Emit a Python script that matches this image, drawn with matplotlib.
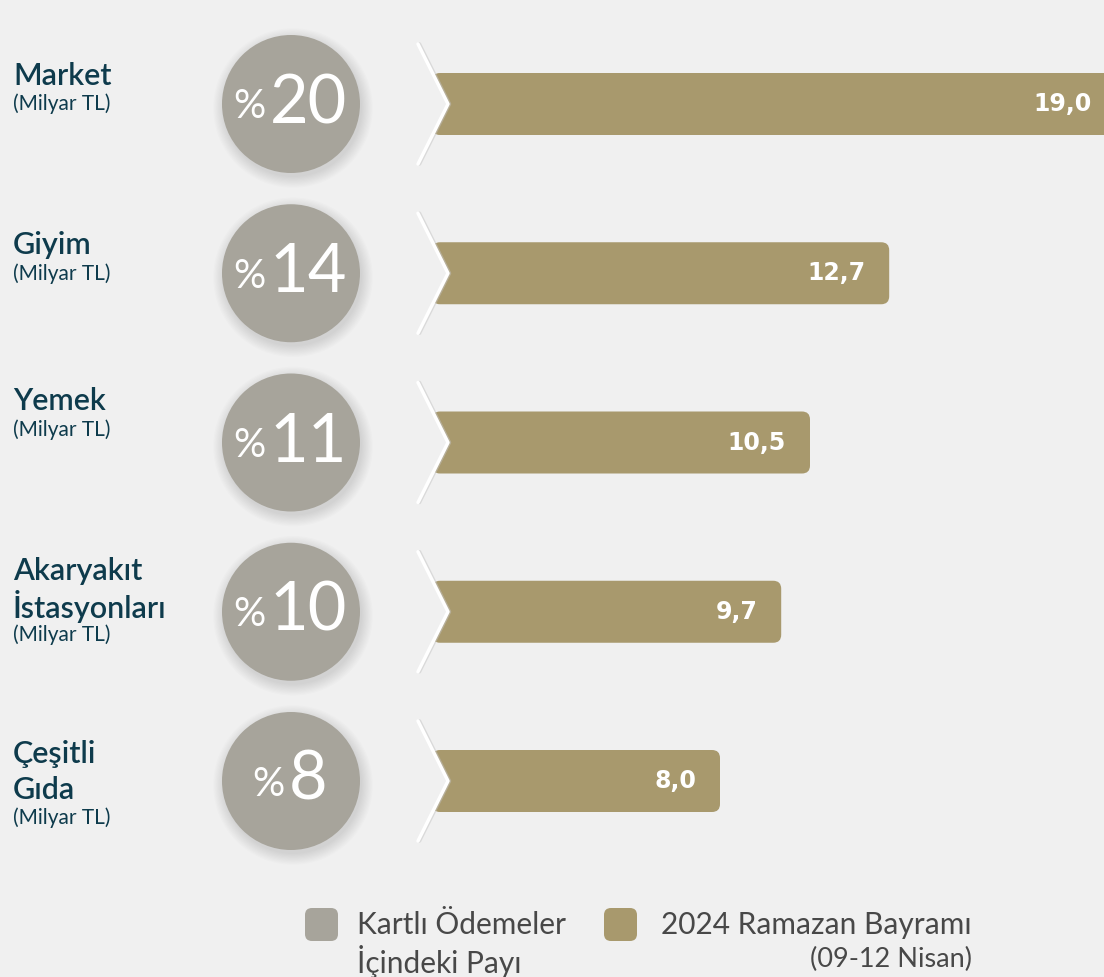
import matplotlib
matplotlib.use("Agg")
import matplotlib.pyplot as plt
from matplotlib.patches import Circle, FancyBboxPatch, Polygon

categories = [["Market"], ["Giyim"], ["Yemek"], ["Akaryakıt", "İstasyonları"], ["Çeşitli", "Gıda"]]
unit_label = "(Milyar TL)"
share_pct = [20, 14, 11, 10, 8]
spend_values = [19.0, 12.7, 10.5, 9.7, 8.0]
value_labels = ["19,0", "12,7", "10,5", "9,7", "8,0"]
legend_labels = [["Kartlı Ödemeler", "İçindeki Payı"], ["2024 Ramazan Bayramı", "(09-12 Nisan)"]]

BG = "#f0f0f0"
GOLD = "#a8996d"
GRAY = "#a7a49b"
DARK = "#0e3b4c"
LEG = "#484848"

W, H = 1104, 977
fig = plt.figure(figsize=(W / 100, H / 100), dpi=100, facecolor=BG)

deco = fig.add_axes([0, 0, 1, 1])
deco.set_xlim(0, W)
deco.set_ylim(H, 0)
deco.axis("off")
deco.set_facecolor(BG)
deco.set_zorder(1)

bar_ax = fig.add_axes([0, 0, 1, 1])
bar_ax.patch.set_alpha(0)
bar_ax.axis("off")
bar_ax.set_zorder(2)
x0_px, px_per_unit = 432.0, 36.0
bar_ax.set_xlim(-x0_px / px_per_unit, (W - x0_px) / px_per_unit)
row0, row_gap = 104.0, 169.25
bar_ax.set_ylim((H - row0) / row_gap, -row0 / row_gap)
bar_h = 62 / row_gap

n = len(spend_values)
for i, v in enumerate(spend_values):
    rx = 8 / px_per_unit
    ry = 8 / row_gap
    p = FancyBboxPatch((0, i - bar_h / 2), v, bar_h,
                       boxstyle=f"round,pad=0,rounding_size={rx}",
                       mutation_aspect=ry / rx, fc=GOLD, ec="none", zorder=2)
    bar_ax.add_patch(p)
    bar_ax.text(v - 24 / px_per_unit, i, value_labels[i], color="white",
                fontsize=17, fontweight="bold", family="DejaVu Sans",
                ha="right", va="center", zorder=5)

top = fig.add_axes([0, 0, 1, 1])
top.set_xlim(0, W)
top.set_ylim(H, 0)
top.axis("off")
top.patch.set_alpha(0)
top.set_zorder(4)

fig.canvas.draw()
renderer = fig.canvas.get_renderer()

label_sub_off = [0, 0, -13, 23, 37]
for i in range(n):
    yc = row0 + i * row_gap
    for k in range(10):
        top.add_patch(Circle((291 + 2, yc + 4), 69 + k * 1.2, fc="#000000", alpha=0.012, ec="none", zorder=1))
    top.add_patch(Circle((291, yc), 69, fc=GRAY, ec="none", zorder=2))
    t1 = top.text(0, yc + 3, "%", color="white", fontsize=29, family="Lato", ha="left", va="center", zorder=3)
    t2 = top.text(0, yc, str(share_pct[i]), color="white", fontsize=48, family="Lato", ha="left", va="center", zorder=3)
    w1 = t1.get_window_extent(renderer).width
    w2 = t2.get_window_extent(renderer).width
    gap = 4
    total = w1 + gap + w2
    left = 290 - total / 2
    t1.set_x(left)
    t2.set_x(left + w1 + gap)

    cover = Polygon([(380, yc - 36), (448 - 30 * 36 / 62, yc - 36), (448, yc),
                     (448 - 30 * 36 / 62, yc + 36), (380, yc + 36)],
                    closed=True, fc=BG, ec="none", zorder=1)
    top.add_patch(cover)
    top.plot([419.5, 449.5, 419.5], [yc - 60, yc, yc + 60], color="#c4c4c4", lw=2.5, alpha=0.5,
             solid_joinstyle="round", solid_capstyle="round", zorder=1.5)
    top.plot([418, 448, 418], [yc - 60, yc, yc + 60], color="white", lw=2.5,
             solid_joinstyle="round", solid_capstyle="round", zorder=1.6)

    sub_y = yc + label_sub_off[i]
    lines = categories[i]
    for j, line in enumerate(lines):
        ly = sub_y - 28 - (len(lines) - 1 - j) * 36
        top.text(13, ly, line, color=DARK, fontsize=22, family="Lato", fontweight="semibold",
                 ha="left", va="center")
    top.text(13, sub_y, unit_label, color=DARK, fontsize=15, family="Lato",
             ha="left", va="center")

# legend
top.add_patch(FancyBboxPatch((305, 908), 33, 33, boxstyle="round,pad=0,rounding_size=7", fc=GRAY, ec="none"))
top.add_patch(FancyBboxPatch((604, 908), 33, 33, boxstyle="round,pad=0,rounding_size=7", fc=GOLD, ec="none"))
top.text(357, 925, legend_labels[0][0], color=LEG, fontsize=21.5, family="Lato", ha="left", va="center")
top.text(357, 961, legend_labels[0][1], color=LEG, fontsize=21.5, family="Lato", ha="left", va="center")
top.text(972, 925, legend_labels[1][0], color=LEG, fontsize=21.5, family="Lato", ha="right", va="center")
top.text(972, 959, legend_labels[1][1], color=LEG, fontsize=19.5, family="Lato", ha="right", va="center")

fig.savefig("out.png", dpi=100, facecolor=BG)
